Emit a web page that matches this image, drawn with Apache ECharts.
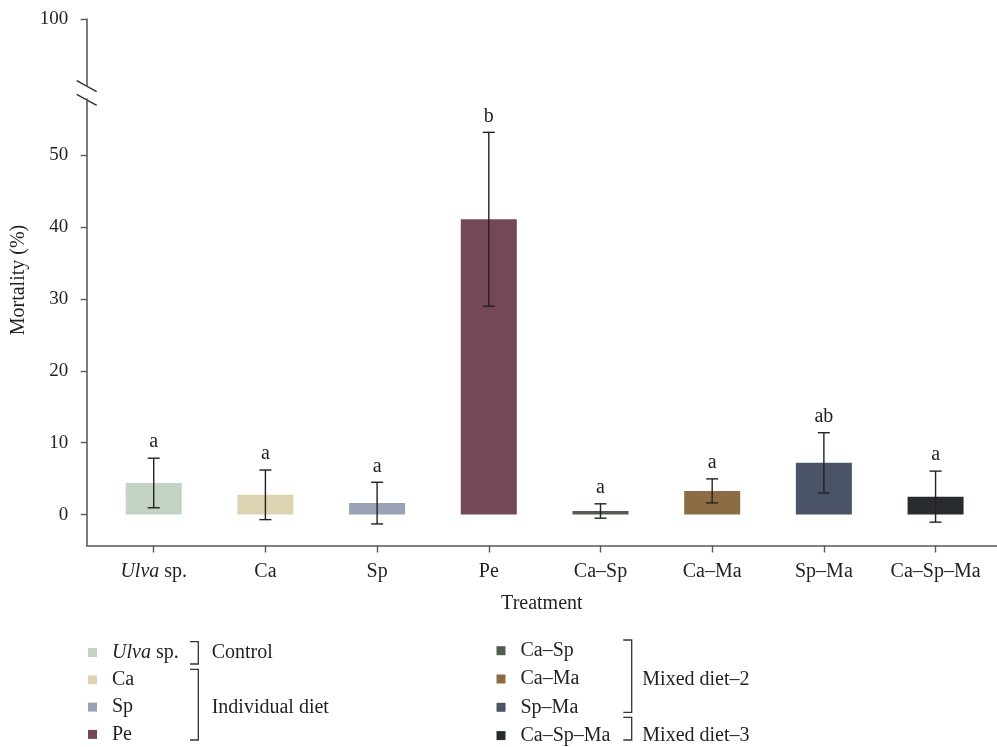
<!DOCTYPE html>
<html>
<head>
<meta charset="utf-8">
<script src="https://cdn.jsdelivr.net/npm/echarts@6/dist/echarts.min.js"></script>
<style>
html,body{margin:0;padding:0;background:#fff;}
#chart{width:997px;height:747px;}
</style>
</head>
<body>
<div id="chart"></div>
<script>
// ---- data ----
const categories = ['Ulva sp.', 'Ca', 'Sp', 'Pe', 'Ca–Sp', 'Ca–Ma', 'Sp–Ma', 'Ca–Sp–Ma'];
const meanValues = [4.4, 2.75, 1.6, 41.1, 0.5, 3.3, 7.2, 2.5];
const sdValues = [3.45, 3.45, 2.9, 12.1, 1.0, 1.67, 4.2, 3.55];
const sigLetters = ['a', 'a', 'a', 'b', 'a', 'a', 'ab', 'a'];
const lowerTicks = [0, 10, 20, 30, 40, 50];
const upperTicks = [100];
const leftLegend = ['Ulva sp.', 'Ca', 'Sp', 'Pe'];
const rightLegend = ['Ca–Sp', 'Ca–Ma', 'Sp–Ma', 'Ca–Sp–Ma'];

// ---- styles ----
const barColors = ['#c3d4c5', '#ddd3b3', '#98a2b2', '#744759', '#515c50', '#8b6c44', '#4a5466', '#282c30'];
const FONT = '"Liberation Serif", "DejaVu Serif", serif';
const TXT = '#231f20';
const AXIS = '#5a5a5a';
const GL = 86.7, GR = -4;
const LOW_TOP = 99, LOW_BOTTOM = 201.5;
const UP_TOP = 19, UP_H = 67;

const chart = echarts.init(document.getElementById('chart'), null, {renderer: 'canvas'});

const labelFmt = function (v) {
  const name = categories[Math.round(v)];
  if (name === 'Ulva sp.') return '{i|Ulva} sp.';
  return name;
};

const series = categories.map(function (c, i) {
  return {
    name: c,
    type: 'bar',
    xAxisIndex: 0,
    yAxisIndex: 0,
    barWidth: 56,
    barGap: '-100%',
    z: 2,
    itemStyle: {color: barColors[i]},
    data: [[i, meanValues[i]]],
    animation: false
  };
});

series.push({
  type: 'custom',
  xAxisIndex: 0,
  yAxisIndex: 0,
  z: 10,
  animation: false,
  silent: true,
  data: categories.map(function (c, i) { return [i, meanValues[i], sdValues[i]]; }),
  renderItem: function (params, api) {
    const x = api.value(0), m = api.value(1), s = api.value(2);
    const top = api.coord([x, m + s]);
    const bot = api.coord([x, m - s]);
    const half = 6;
    const st = {stroke: '#222', lineWidth: 1.4};
    return {
      type: 'group',
      children: [
        {type: 'line', shape: {x1: top[0], y1: top[1], x2: bot[0], y2: bot[1]}, style: st},
        {type: 'line', shape: {x1: top[0] - half, y1: top[1], x2: top[0] + half, y2: top[1]}, style: st},
        {type: 'line', shape: {x1: bot[0] - half, y1: bot[1], x2: bot[0] + half, y2: bot[1]}, style: st},
        {type: 'text', x: top[0], y: top[1] - 6, style: {
          text: sigLetters[params.dataIndex], align: 'center', verticalAlign: 'bottom',
          font: '20px ' + FONT, fill: TXT}}
      ]
    };
  }
});

const legendCommon = {
  orient: 'vertical',
  icon: 'rect',
  itemWidth: 9,
  itemHeight: 9,
  padding: 0,
  selectedMode: false,
  textStyle: {
    fontFamily: FONT, fontSize: 20, color: TXT, lineHeight: 20, padding: [0, 0, 0, 10],
    rich: {i: {fontFamily: FONT, fontSize: 20, fontStyle: 'italic', color: TXT}}
  },
  formatter: function (name) { return name === 'Ulva sp.' ? '{i|Ulva} sp.' : name; }
};

const bracket = function (x1, x2, y1, y2) {
  return {
    type: 'polyline',
    shape: {points: [[x1, y1], [x2, y1], [x2, y2], [x1, y2]]},
    style: {stroke: '#333', lineWidth: 1.3, fill: null}
  };
};
const gtext = function (t, x, y) {
  return {type: 'text', x: x, y: y, style: {text: t, font: '20px ' + FONT, fill: TXT, verticalAlign: 'middle', align: 'left'}};
};

const option = {
  backgroundColor: '#fff',
  animation: false,
  grid: [
    {left: GL, right: GR, top: LOW_TOP, bottom: LOW_BOTTOM, containLabel: false},
    {left: GL, right: GR, top: UP_TOP, height: UP_H, containLabel: false}
  ],
  xAxis: [
    {
      type: 'value', gridIndex: 0, min: -0.6, max: 7.55,
      name: 'Treatment', nameLocation: 'middle', nameGap: 48,
      nameTextStyle: {fontFamily: FONT, fontSize: 20, color: TXT},
      axisLine: {show: true, onZero: false, lineStyle: {color: AXIS, width: 1.6}},
      axisTick: {show: true, length: 7, customValues: [0, 1, 2, 3, 4, 5, 6, 7], lineStyle: {color: AXIS, width: 1.4}},
      axisLabel: {
        show: true, margin: 16, customValues: [0, 1, 2, 3, 4, 5, 6, 7],
        fontFamily: FONT, fontSize: 20, color: TXT, formatter: labelFmt,
        rich: {i: {fontFamily: FONT, fontSize: 20, fontStyle: 'italic', color: TXT}}
      },
      splitLine: {show: false}
    },
    {
      type: 'value', gridIndex: 1, min: -0.6, max: 7.55, show: false
    }
  ],
  yAxis: [
    {
      type: 'value', gridIndex: 0, min: -4.3, max: 57.84,
      axisLine: {show: true, onZero: false, lineStyle: {color: AXIS, width: 1.6}},
      axisTick: {show: true, length: 6, customValues: lowerTicks, lineStyle: {color: AXIS, width: 1.4}},
      axisLabel: {show: true, margin: 18.5, customValues: lowerTicks, fontFamily: FONT, fontSize: 19, color: TXT},
      splitLine: {show: false}
    },
    {
      type: 'value', gridIndex: 1, min: 91, max: 100,
      axisLine: {show: true, onZero: false, lineStyle: {color: AXIS, width: 1.6}},
      axisTick: {show: true, length: 6, customValues: upperTicks, lineStyle: {color: AXIS, width: 1.4}},
      axisLabel: {show: true, margin: 18.5, customValues: upperTicks, fontFamily: FONT, fontSize: 19, color: TXT},
      splitLine: {show: false}
    }
  ],
  legend: [
    Object.assign({}, legendCommon, {data: leftLegend, left: 88, top: 642.5, itemGap: 7.3}),
    Object.assign({}, legendCommon, {data: rightLegend, left: 496.5, top: 640.7, itemGap: 8.3})
  ],
  graphic: [
    // axis break marks
    {type: 'line', shape: {x1: GL - 10, y1: 80.7, x2: GL + 10, y2: 91.7}, style: {stroke: '#333', lineWidth: 1.4}},
    {type: 'line', shape: {x1: GL - 10, y1: 94.3, x2: GL + 10, y2: 105.3}, style: {stroke: '#333', lineWidth: 1.4}},
    // y-axis title
    {type: 'text', x: 19, y: 280, rotation: Math.PI / 2,
      style: {text: 'Mortality (%)', font: '20px ' + FONT, fill: TXT, align: 'center', verticalAlign: 'middle'}},
    // legend group brackets
    bracket(190, 198.3, 641.7, 664),
    bracket(190, 198.3, 669.3, 740),
    bracket(623.3, 631.7, 640, 712.3),
    bracket(623.3, 631.7, 717.3, 740),
    gtext('Control', 211.7, 653),
    gtext('Individual diet', 211.7, 707.5),
    gtext('Mixed diet–2', 642.3, 680),
    gtext('Mixed diet–3', 642.3, 736)
  ],
  series: series
};

chart.setOption(option);
</script>
</body>
</html>
